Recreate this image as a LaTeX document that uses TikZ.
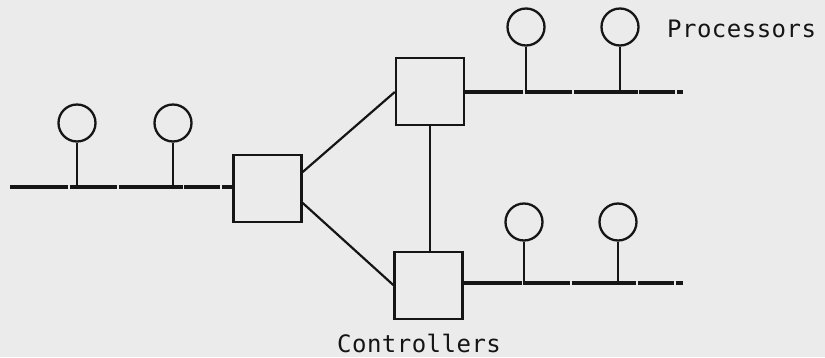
\documentclass[tikz,border=0pt]{standalone}
\usepackage{fontspec}
\newfontfamily\labelfont[LetterSpace=2]{DejaVu Sans Mono}
\definecolor{paper}{HTML}{EBEBEB}
\definecolor{ink}{HTML}{151515}
\begin{document}
\begin{tikzpicture}[x=1pt,y=-1pt,
  ctrl/.style={draw=ink,line width=2.4pt,minimum width=68pt,minimum height=67pt,inner sep=0pt},
  proc/.style={draw=ink,line width=2.3pt,circle,minimum size=37pt,inner sep=0pt},
  link/.style={draw=ink,line width=2.2pt},
  stem/.style={draw=ink,line width=2pt},
  bus/.style={draw=ink,line width=3.6pt,dash pattern=on 58pt off 1.5pt on 47pt off 2pt on 64pt off 1.5pt on 36pt off 2pt},
  lbl/.style={inner sep=0pt,text depth=0pt,font=\labelfont\fontsize{24}{28}\selectfont,text=ink}]
  % page
  \fill[paper] (0,0) rectangle (825,357);
  \useasboundingbox (0,0) rectangle (825,357);

  % controllers
  \node[ctrl] (cl) at (267.5,188.5) {};
  \node[ctrl] (ct) at (430,91.5) {};
  \node[ctrl] (cb) at (428.5,285.5) {};

  % bus ends
  \coordinate (bl) at (10,187);
  \coordinate (bt) at (683,92);
  \coordinate (bb) at (683,283);

  % processors
  \node[proc] (p1) at (77,123) {};
  \node[proc] (p2) at (173,123) {};
  \node[proc] (p3) at (526,27) {};
  \node[proc] (p4) at (620,27) {};
  \node[proc] (p5) at (524,222) {};
  \node[proc] (p6) at (618,222) {};

  % buses
  \draw[bus] (bl) -- (cl.west |- bl);
  \draw[bus] (ct.east |- bt) -- (bt);
  \draw[bus] (cb.east |- bb) -- (bb);

  % processor stems
  \draw[stem] (p1.south) -- (p1 |- bl);
  \draw[stem] (p2.south) -- (p2 |- bl);
  \draw[stem] (p3.south) -- (p3 |- bt);
  \draw[stem] (p4.south) -- (p4 |- bt);
  \draw[stem] (p5.south) -- (p5 |- bb);
  \draw[stem] (p6.south) -- (p6 |- bb);

  % controller links
  \draw[link] (cl.east |- 0,172) -- (ct.west |- 0,92);
  \draw[link] (cl.east |- 0,203) -- (cb.west |- 0,285);
  \draw[link] (ct.south -| 430,0) -- (cb.north -| 430,0);

  % labels
  \node[lbl,anchor=base west] (tp) at (667,37) {Processors};
  \node[lbl,anchor=base west] (tc) at (337,352) {Controllers};
\end{tikzpicture}
\end{document}
